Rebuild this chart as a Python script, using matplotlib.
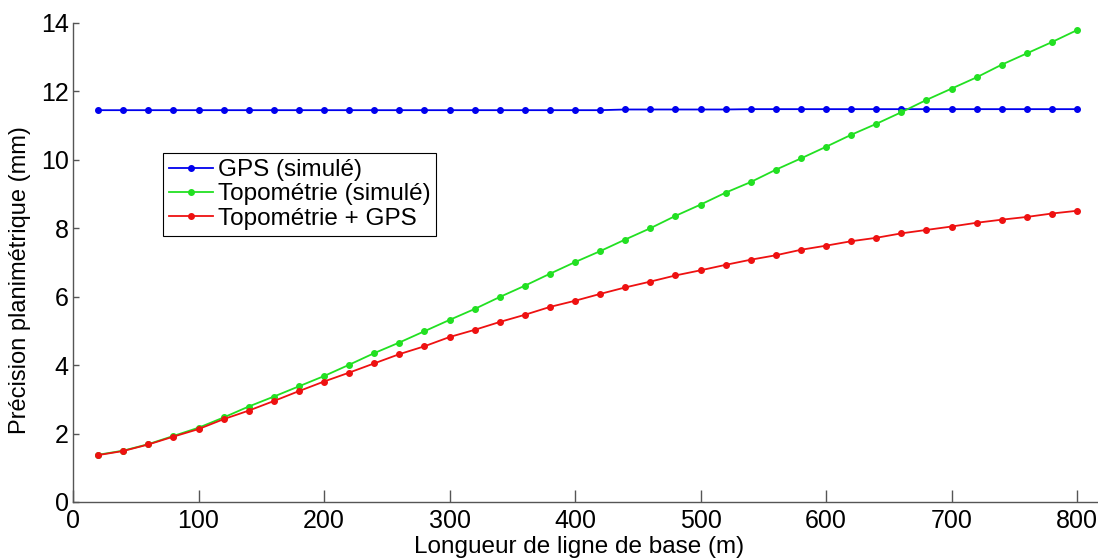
import matplotlib; matplotlib.use("Agg")
import matplotlib.pyplot as plt
import numpy as np

plt.rcParams["font.family"] = ["Liberation Sans", "DejaVu Sans"]

# longueur de ligne de base (m)
base = np.arange(20, 801, 20)

gps = [11.45, 11.45, 11.45, 11.45, 11.45, 11.45, 11.45, 11.45, 11.45, 11.45,
       11.45, 11.45, 11.45, 11.45, 11.45, 11.45, 11.45, 11.45, 11.45, 11.45,
       11.45, 11.47, 11.47, 11.47, 11.47, 11.47, 11.48, 11.48, 11.48, 11.48,
       11.48, 11.48, 11.48, 11.48, 11.48, 11.48, 11.48, 11.48, 11.48, 11.48]

topo = [1.38, 1.50, 1.69, 1.93, 2.17, 2.47, 2.79, 3.08, 3.38, 3.68,
        4.01, 4.35, 4.66, 4.99, 5.32, 5.64, 5.99, 6.32, 6.67, 7.01,
        7.33, 7.67, 8.00, 8.36, 8.69, 9.04, 9.35, 9.71, 10.04, 10.38,
        10.73, 11.05, 11.39, 11.75, 12.08, 12.41, 12.78, 13.11, 13.44, 13.79]

topo_gps = [1.37, 1.49, 1.68, 1.91, 2.13, 2.42, 2.67, 2.95, 3.24, 3.52,
            3.78, 4.05, 4.32, 4.55, 4.82, 5.03, 5.26, 5.47, 5.70, 5.88,
            6.08, 6.27, 6.44, 6.62, 6.77, 6.93, 7.08, 7.21, 7.37, 7.49,
            7.62, 7.72, 7.85, 7.95, 8.05, 8.16, 8.25, 8.33, 8.43, 8.51]

labels = ["GPS (simulé)", "Topométrie (simulé)", "Topométrie + GPS"]
colors = ["#0000ee", "#22e022", "#ee1111"]

fig = plt.figure(figsize=(10.98, 5.59), dpi=100)
ax = fig.add_axes([0.0665, 0.102, 0.9335, 0.857])

for ys, lab, c in zip([gps, topo, topo_gps], labels, colors):
    ax.plot(base, ys, color=c, lw=1.3, marker=".", ms=8, label=lab)

ax.set_xlim(0, 816.7)
ax.set_ylim(0, 14)
ax.set_xticks(np.arange(0, 801, 100))
ax.set_yticks(np.arange(0, 15, 2))
ax.tick_params(axis="both", direction="in", labelsize=18, colors="#555555",
               labelcolor="black", width=1)
ax.tick_params(axis="x", length=9, pad=5)
ax.tick_params(axis="y", length=4, pad=3)
for s in ("top", "right"):
    ax.spines[s].set_visible(False)
for s in ("left", "bottom"):
    ax.spines[s].set_color("#555555")
    ax.spines[s].set_linewidth(1)

ax.set_xlabel("Longueur de ligne de base (m)", fontsize=17.5)
ax.set_ylabel("Précision planimétrique (mm)", fontsize=17)
ax.xaxis.set_label_coords(0.494, -0.072)
ax.yaxis.set_label_coords(-0.041, 0.463)

leg = ax.legend(loc="upper left", bbox_to_anchor=(0.0878, 0.7286), borderaxespad=0,
                fontsize=17.5, fancybox=False, framealpha=1, edgecolor="black",
                handlelength=1.8, handletextpad=0.2, labelspacing=0.1,
                borderpad=0.25)
leg.get_frame().set_linewidth(0.8)

fig.savefig("out.png", dpi=100, facecolor="white")
